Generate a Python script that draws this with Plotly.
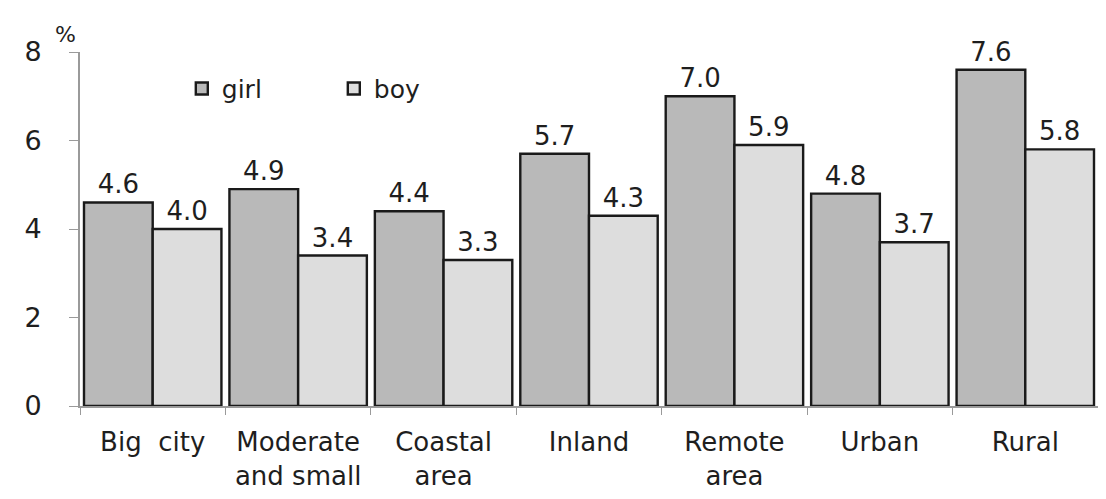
import plotly.graph_objects as go

categories = ["Big  city", "Moderate<br>and small", "Coastal<br>area", "Inland",
              "Remote<br>area", "Urban", "Rural"]
girl = [4.6, 4.9, 4.4, 5.7, 7.0, 4.8, 7.6]
boy = [4.0, 3.4, 3.3, 4.3, 5.9, 3.7, 5.8]
y_ticks = [0, 2, 4, 6, 8]

FONT = "DejaVu Sans, Verdana, sans-serif"
TXT = "#1e1e1e"

fig = go.Figure()
fig.add_trace(go.Bar(
    name="girl", x=categories, y=girl,
    marker=dict(color="#b9b9b9", line=dict(color="#1a1a1a", width=2.4)),
    text=[f"{v:.1f}" for v in girl], textposition="outside",
    textfont=dict(size=26, color=TXT, family=FONT),
    cliponaxis=False,
))
fig.add_trace(go.Bar(
    name="boy", x=categories, y=boy,
    marker=dict(color="#dddddd", line=dict(color="#1a1a1a", width=2.4)),
    text=[f"{v:.1f}" for v in boy], textposition="outside",
    textfont=dict(size=26, color=TXT, family=FONT),
    cliponaxis=False,
))

fig.update_layout(
    width=1106, height=499,
    margin=dict(l=72, r=16, t=44, b=101, autoexpand=False),
    paper_bgcolor="white", plot_bgcolor="white",
    barmode="group", bargap=0.055, bargroupgap=0.0,
    font=dict(family=FONT, size=25, color=TXT),
    showlegend=True,
    legend=dict(orientation="h", x=0.1, y=0.896, xanchor="left", yanchor="middle",
                bgcolor="rgba(0,0,0,0)", font=dict(size=25, color=TXT),
                itemwidth=30, entrywidth=107, entrywidthmode="pixels"),
)
fig.update_xaxes(
    type="category", showgrid=False, showline=True, linecolor="#9a9a9a", linewidth=2,
    ticks="outside", tickson="boundaries", ticklen=7, tickcolor="#9a9a9a",
    tickfont=dict(size=26, color=TXT), ticklabelstandoff=12, automargin=False,
)
fig.update_yaxes(
    range=[0, 8], tickvals=y_ticks, showgrid=False, zeroline=False,
    showline=True, linecolor="#9a9a9a", linewidth=2,
    ticks="outside", ticklen=9, tickcolor="#9a9a9a",
    tickfont=dict(size=27, color=TXT), ticklabelstandoff=22, automargin=False,
)
fig.add_annotation(text="%", xref="paper", yref="paper", x=0.0, y=1.0,
                   xanchor="right", yanchor="bottom", showarrow=False,
                   font=dict(size=22, color=TXT), xshift=-2, yshift=3)

fig.write_html("out.html")
